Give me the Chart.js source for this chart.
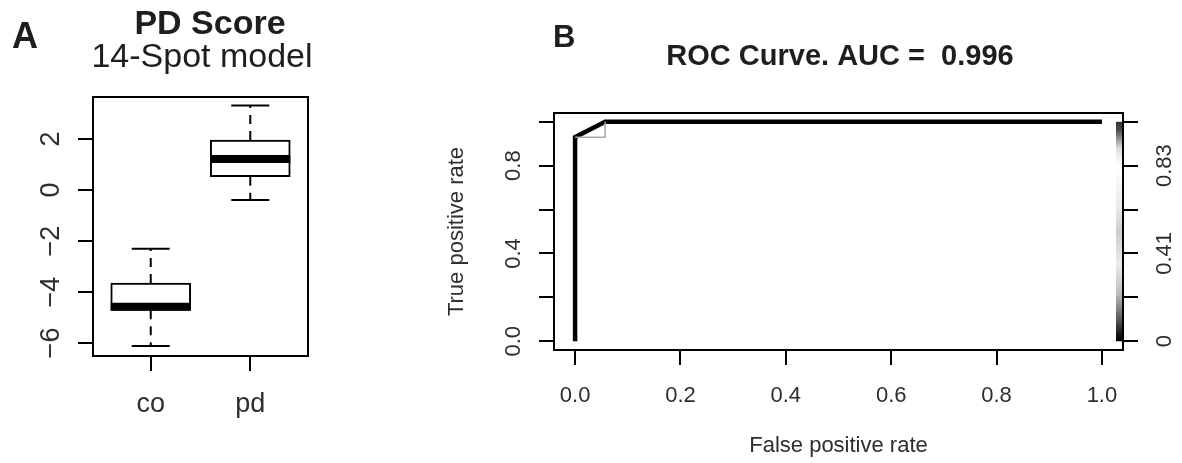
<!DOCTYPE html>
<html>
<head>
<meta charset="utf-8">
<script src="https://cdn.jsdelivr.net/npm/chart.js@4.4.1/dist/chart.umd.min.js"></script>
<style>
body{margin:0;background:#fff;width:1182px;height:463px;overflow:hidden;position:relative;}
canvas{position:absolute;top:0;}
#boxA{left:0;}
#rocB{left:420px;}
</style>
</head>
<body>
<canvas id="boxA" width="420" height="463"></canvas>
<canvas id="rocB" width="762" height="463"></canvas>
<script>
// panel A - PD score per group
const groups = ["co", "pd"];
const groupPos = [1, 2];
const whiskerLow = [-6.12, -0.39];
const q1 = [-4.72, 0.52];
const median = [-4.58, 1.22];
const q3 = [-3.65, 1.96];
const whiskerHigh = [-2.3, 3.32];
const scoreTicks = [-6, -4, -2, 0, 2];

// panel B - ROC curve
const rocFpr = [0, 0, 0.057, 1];
const rocTpr = [0, 0.93, 1, 1];
const stepFpr = [0, 0.057, 0.057];
const stepTpr = [0.93, 0.93, 1];
const rateTicks = [0, 0.2, 0.4, 0.6, 0.8, 1];
const fprLabels = ["0.0", "0.2", "0.4", "0.6", "0.8", "1.0"];
const tprLabels = ["0.0", "", "0.4", "", "0.8", ""];
const cutoffLabels = ["0", "", "0.41", "", "0.83", ""];
const cutoffPos = [0, 0.03, 0.1, 0.22, 0.35, 0.5, 0.62, 0.8, 0.88, 0.96, 1];
const cutoffGray = [0, 20, 90, 190, 235, 205, 235, 255, 220, 80, 50];

const fam = '"Liberation Sans", Arial, Helvetica, sans-serif';
const ink = "#1e1e1e";
const tickInk = "#2e2e2e";
Chart.defaults.font.family = fam;

function rotText(ctx, txt, x, y){
ctx.save();
ctx.translate(x, y);
ctx.rotate(-Math.PI/2);
ctx.textAlign = "center";
ctx.textBaseline = "alphabetic";
ctx.fillText(txt, 0, 0);
ctx.restore();
}

function seg(ctx, x1, y1, x2, y2){
ctx.beginPath();
ctx.moveTo(x1, y1);
ctx.lineTo(x2, y2);
ctx.stroke();
}

function tickAxis(extra){
return Object.assign({
ticks: {display: false},
grid: {drawOnChartArea: false, drawTicks: true, tickLength: 15, color: "#000", lineWidth: 2, offset: false},
border: {display: true, color: "#000", width: 2}
}, extra);
}

const boxExtras = {
id: "boxExtras",
afterDatasetsDraw(chart){
const {ctx, chartArea: a, scales: {x, y}} = chart;
ctx.save();
ctx.strokeStyle = "#000";
groups.forEach((g, i) => {
const px = x.getPixelForValue(groupPos[i]);
ctx.lineWidth = 2;
ctx.setLineDash([9, 7]);
seg(ctx, px, y.getPixelForValue(q3[i]), px, y.getPixelForValue(whiskerHigh[i]));
seg(ctx, px, y.getPixelForValue(q1[i]), px, y.getPixelForValue(whiskerLow[i]));
ctx.setLineDash([]);
seg(ctx, px-19, y.getPixelForValue(whiskerHigh[i]), px+19, y.getPixelForValue(whiskerHigh[i]));
seg(ctx, px-19, y.getPixelForValue(whiskerLow[i]), px+19, y.getPixelForValue(whiskerLow[i]));
ctx.lineWidth = 8;
ctx.lineCap = "butt";
seg(ctx, px-40, y.getPixelForValue(median[i]), px+40, y.getPixelForValue(median[i]));
});
ctx.lineWidth = 2;
ctx.strokeRect(a.left, a.top, a.right-a.left, a.bottom-a.top);
ctx.restore();
},
afterDraw(chart){
const {ctx, scales: {x, y}} = chart;
ctx.save();
ctx.fillStyle = ink;
ctx.textAlign = "left";
ctx.font = "bold 36px " + fam;
ctx.fillText("A", 12, 48);
ctx.textAlign = "center";
ctx.font = "bold 34px " + fam;
ctx.fillText("PD Score", 210, 34);
ctx.font = "34px " + fam;
ctx.fillText("14-Spot model", 202, 67);
ctx.fillStyle = tickInk;
ctx.font = "27px " + fam;
scoreTicks.forEach(v => rotText(ctx, String(v).replace("-", "\u2212"), 59, y.getPixelForValue(v)));
groups.forEach((g, i) => ctx.fillText(g, x.getPixelForValue(groupPos[i]), 412));
ctx.restore();
}
};

const rocExtras = {
id: "rocExtras",
beforeDatasetsDraw(chart){
const {ctx, chartArea: a, scales: {y2}} = chart;
const top = y2.getPixelForValue(1), bot = y2.getPixelForValue(0);
const grad = ctx.createLinearGradient(0, bot, 0, top);
cutoffPos.forEach((p, i) => {
const c = cutoffGray[i];
grad.addColorStop(p, "rgb(" + c + "," + c + "," + c + ")");
});
ctx.save();
ctx.fillStyle = grad;
ctx.fillRect(a.right-7, top, 7, bot-top);
ctx.restore();
},
afterDatasetsDraw(chart){
const {ctx, chartArea: a} = chart;
ctx.save();
ctx.strokeStyle = "#000";
ctx.lineWidth = 2;
ctx.strokeRect(a.left, a.top, a.right-a.left, a.bottom-a.top);
ctx.restore();
},
afterDraw(chart){
const {ctx, chartArea: a, scales: {x, y, y2}} = chart;
ctx.save();
ctx.fillStyle = ink;
ctx.textAlign = "left";
ctx.font = "bold 31px " + fam;
ctx.fillText("B", 133, 47);
ctx.textAlign = "center";
ctx.font = "bold 29px " + fam;
ctx.fillText("ROC Curve. AUC =  0.996", 420, 65);
ctx.fillStyle = tickInk;
ctx.font = "22px " + fam;
rateTicks.forEach((v, i) => {
ctx.fillText(fprLabels[i], x.getPixelForValue(v), 402);
if(tprLabels[i]) rotText(ctx, tprLabels[i], 100, y.getPixelForValue(v));
if(cutoffLabels[i]) rotText(ctx, cutoffLabels[i], 751, y2.getPixelForValue(v));
});
ctx.fillText("False positive rate", (a.left+a.right)/2, 452);
rotText(ctx, "True positive rate", 43, (a.top+a.bottom)/2);
ctx.restore();
}
};

new Chart(document.getElementById("boxA"), {
type: "bar",
data: {
datasets: [{
data: groups.map((g, i) => ({x: groupPos[i], y: [q1[i], q3[i]]})),
backgroundColor: "#fff",
borderColor: "#000",
borderWidth: 2,
borderSkipped: false,
barThickness: 80
}]
},
options: {
responsive: false,
animation: false,
events: [],
layout: {padding: {top: 97, right: 112, left: 0, bottom: 0}},
plugins: {legend: {display: false}, tooltip: {enabled: false}},
scales: {
x: tickAxis({type: "linear", min: 0.42, max: 2.58, offset: false,
afterBuildTicks: s => { s.ticks = groupPos.map(v => ({value: v})); },
afterFit: s => { s.height = 107; }}),
y: tickAxis({type: "linear", min: -6.51, max: 3.65,
afterBuildTicks: s => { s.ticks = scoreTicks.map(v => ({value: v})); },
afterFit: s => { s.width = 93; }})
}
},
plugins: [boxExtras]
});

new Chart(document.getElementById("rocB"), {
type: "scatter",
data: {
datasets: [{
data: stepFpr.map((v, i) => ({x: v, y: stepTpr[i]})),
showLine: true,
borderColor: "#a8a8a8",
borderWidth: 1.5,
pointRadius: 0
}, {
data: rocFpr.map((v, i) => ({x: v, y: rocTpr[i]})),
showLine: true,
borderColor: "#000",
borderWidth: 4.5,
borderJoinStyle: "miter",
pointRadius: 0
}]
},
options: {
responsive: false,
animation: false,
events: [],
layout: {padding: {top: 113, right: 0, left: 0, bottom: 0}},
plugins: {legend: {display: false}, tooltip: {enabled: false}},
scales: {
x: tickAxis({type: "linear", position: "bottom", min: -0.04, max: 1.04,
afterBuildTicks: s => { s.ticks = rateTicks.map(v => ({value: v})); },
afterFit: s => { s.height = 113; }}),
y: tickAxis({type: "linear", position: "left", min: -0.04, max: 1.04,
afterBuildTicks: s => { s.ticks = rateTicks.map(v => ({value: v})); },
afterFit: s => { s.width = 134; }}),
y2: tickAxis({type: "linear", position: "right", min: -0.04, max: 1.04,
afterBuildTicks: s => { s.ticks = rateTicks.map(v => ({value: v})); },
afterFit: s => { s.width = 59; }})
}
},
plugins: [rocExtras]
});
</script>
</body>
</html>
